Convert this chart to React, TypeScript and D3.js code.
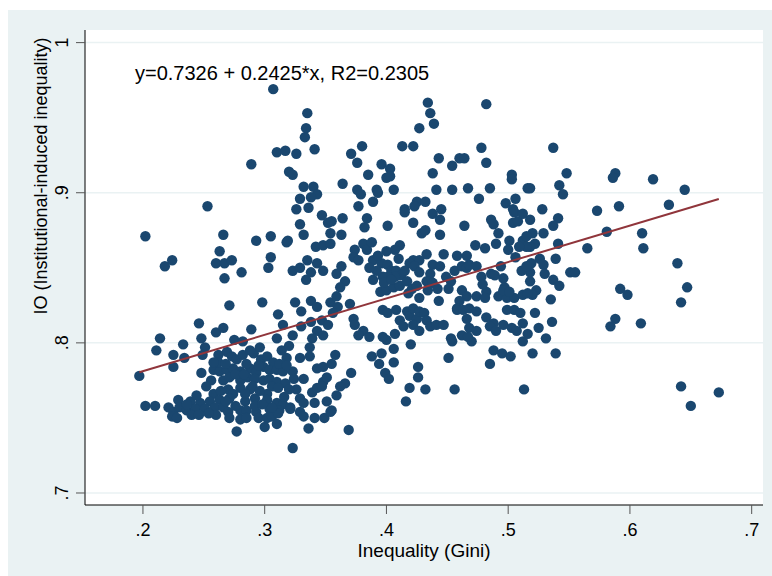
import React from 'react';
import * as d3 from 'd3';

// [gini, io] pairs
const upperPoints: [number, number][] = [
  [.307, .969], [.335, .953], [.334, .943], [.333, .937], [.341, .929], [.310, .927], [.317, .928], [.326, .926],
  [.289, .919], [.320, .914], [.323, .912], [.332, .904], [.340, .904], [.343, .899], [.338, .897], [.329, .896],
  [.326, .889], [.336, .890], [.253, .891],
  [.434, .960], [.482, .959], [.436, .953], [.439, .946], [.427, .943], [.380, .931], [.413, .931], [.422, .931],
  [.371, .926], [.478, .930], [.376, .920], [.443, .923], [.460, .923], [.464, .923], [.482, .920], [.396, .919],
  [.403, .916], [.454, .918], [.385, .912], [.400, .910], [.403, .911], [.438, .913], [.503, .912], [.503, .909],
  [.364, .906], [.376, .902], [.379, .899], [.392, .902], [.393, .900], [.406, .902], [.441, .902], [.454, .902],
  [.467, .903], [.485, .903], [.516, .903], [.377, .891], [.389, .894], [.476, .896], [.498, .893], [.506, .896],
  [.425, .894], [.432, .894], [.423, .891], [.415, .889], [.445, .889], [.504, .889],
  [.537, .930], [.548, .913], [.588, .913], [.586, .910], [.619, .909], [.542, .905], [.545, .899], [.518, .903],
  [.645, .902], [.528, .889], [.591, .891], [.632, .892], [.573, .888],
];

const rightPoints: [number, number][] = [
  [.541, .883], [.518, .882], [.537, .878], [.520, .873], [.529, .873], [.522, .866], [.518, .864], [.581, .874],
  [.610, .873], [.541, .866], [.565, .863], [.611, .863], [.526, .856], [.529, .852], [.530, .846], [.539, .856],
  [.519, .853], [.518, .847], [.551, .847], [.555, .847], [.639, .853], [.537, .842], [.542, .838], [.518, .841],
  [.647, .837], [.592, .836], [.598, .832], [.523, .835], [.520, .832], [.535, .829], [.642, .827], [.522, .820],
  [.588, .816], [.584, .811], [.609, .813], [.536, .814], [.525, .810], [.531, .803], [.520, .793], [.539, .793],
  [.642, .771], [.650, .758], [.673, .767],
];

const lowerMidPoints: [number, number][] = [
  [.358, .792], [.355, .786], [.371, .780], [.366, .773], [.362, .771], [.359, .765], [.355, .755], [.369, .742],
  [.388, .791], [.396, .793], [.394, .786], [.399, .780], [.402, .776], [.406, .796], [.406, .787], [.400, .802],
  [.420, .799], [.426, .784], [.426, .777], [.419, .770], [.432, .769], [.416, .761], [.451, .790], [.454, .801],
  [.456, .769], [.470, .801], [.488, .795], [.495, .793], [.502, .791], [.485, .786], [.513, .769], [.512, .801],
];

const leftMidPoints: [number, number][] = [
  [.202, .871], [.218, .851], [.224, .855], [.266, .872], [.263, .861], [.260, .853], [.267, .853], [.273, .855],
  [.267, .843], [.281, .847], [.293, .868], [.305, .871], [.318, .867], [.319, .868], [.305, .857], [.303, .850],
  [.329, .879], [.347, .885], [.332, .872], [.352, .880], [.342, .864], [.348, .865], [.323, .848], [.329, .850],
  [.335, .855], [.338, .847], [.343, .853], [.348, .848], [.334, .842], [.271, .825], [.298, .827], [.325, .827],
  [.338, .828], [.343, .824], [.311, .819], [.330, .821], [.246, .813], [.260, .807], [.266, .810], [.289, .809],
  [.315, .812], [.214, .803], [.248, .803], [.275, .802], [.323, .805], [.330, .811], [.338, .814], [.347, .815],
  [.343, .808], [.352, .812], [.310, .803], [.339, .803], [.348, .805],
];

const centerPoints: [number, number][] = [
  [.364, .883], [.355, .881], [.384, .883], [.382, .877], [.401, .878], [.415, .887], [.422, .880], [.438, .886],
  [.444, .882], [.429, .873], [.432, .875], [.444, .872], [.464, .878], [.486, .882], [.488, .879], [.492, .873],
  [.504, .880], [.508, .881], [.505, .887], [.512, .886], [.501, .868], [.490, .866], [.512, .868], [.515, .871],
  [.363, .872], [.354, .873], [.354, .866], [.381, .866], [.384, .862], [.388, .867], [.374, .862], [.373, .857],
  [.377, .855], [.411, .865], [.407, .862], [.400, .861], [.433, .859], [.422, .855], [.427, .855], [.447, .859],
  [.458, .858], [.466, .858], [.473, .865], [.481, .863], [.515, .864], [.389, .855], [.396, .853], [.401, .852],
  [.404, .848], [.408, .848], [.412, .845], [.407, .844], [.401, .844], [.397, .844], [.419, .853], [.423, .851],
  [.427, .847], [.436, .846], [.438, .852], [.444, .851], [.456, .848], [.462, .851], [.466, .850], [.468, .852],
  [.474, .851], [.486, .846], [.359, .846], [.363, .851], [.389, .842], [.366, .841], [.362, .837], [.478, .844],
  [.511, .848], [.515, .851], [.496, .843], [.497, .837], [.395, .834], [.400, .835], [.406, .837], [.411, .838],
  [.417, .841], [.421, .836], [.425, .838], [.433, .841], [.438, .840], [.434, .835], [.449, .844], [.453, .841],
  [.451, .836], [.462, .835], [.466, .831], [.460, .828], [.458, .823], [.474, .831], [.482, .834], [.481, .830],
  [.492, .831], [.499, .830], [.505, .830], [.512, .832], [.516, .833], [.496, .835], [.501, .834], [.354, .827],
  [.359, .831], [.360, .824], [.370, .826], [.356, .820], [.373, .816], [.374, .812], [.381, .808], [.386, .804],
  [.377, .805], [.397, .822], [.401, .820], [.408, .822], [.411, .815], [.417, .821], [.419, .818], [.422, .823],
  [.425, .816], [.427, .821], [.431, .820], [.433, .815], [.414, .811], [.422, .812], [.427, .808], [.436, .811],
  [.441, .812], [.407, .806], [.397, .804], [.443, .828], [.447, .812], [.453, .803], [.462, .805], [.467, .804],
  [.458, .822], [.463, .822], [.468, .823], [.474, .821], [.466, .816], [.482, .817], [.488, .813], [.485, .811],
  [.490, .808], [.496, .812], [.503, .810], [.507, .808], [.512, .813], [.516, .806], [.499, .822], [.505, .822],
  [.510, .820], [.468, .810], [.474, .808],
  [.392, .848], [.386, .850], [.398, .840], [.404, .842], [.415, .848], [.393, .858], [.410, .856], [.418, .833],
  [.427, .830], [.442, .836], [.479, .839], [.489, .845], [.494, .851], [.506, .857], [.500, .862], [.509, .864],
];

const lowerLeftPoints: [number, number][] = [
  [.233, .799], [.251, .797], [.282, .801], [.211, .795], [.225, .792], [.234, .790], [.249, .792], [.262, .792],
  [.269, .794], [.273, .791], [.277, .789], [.282, .792], [.291, .793], [.297, .789], [.302, .791], [.307, .787],
  [.225, .784], [.258, .782], [.248, .780], [.263, .781], [.269, .782], [.274, .783], [.280, .781], [.288, .783],
  [.293, .780], [.299, .784], [.304, .782], [.310, .782], [.315, .781], [.323, .781], [.329, .790], [.337, .791],
  [.337, .797], [.343, .783], [.348, .784], [.197, .778], [.256, .775], [.266, .775], [.271, .777], [.280, .775],
  [.286, .777], [.292, .776], [.299, .775], [.304, .776], [.310, .774], [.317, .773], [.332, .776], [.348, .774],
  [.351, .777], [.252, .771], [.258, .766], [.270, .769], [.274, .766], [.280, .770], [.288, .769], [.302, .766],
  [.306, .771], [.311, .770], [.326, .769], [.339, .767], [.343, .770], [.347, .771], [.229, .762], [.239, .761],
  [.247, .760], [.255, .761], [.263, .762], [.271, .763], [.284, .761], [.292, .763], [.302, .762], [.310, .760],
  [.315, .759], [.321, .757], [.329, .763], [.332, .760], [.341, .760], [.351, .761], [.202, .758], [.210, .758],
  [.221, .757], [.225, .754], [.230, .757], [.236, .755], [.243, .756], [.251, .756], [.259, .757], [.266, .757],
  [.270, .754], [.280, .755], [.285, .755], [.293, .754], [.304, .756], [.312, .755], [.321, .756], [.329, .754],
  [.332, .751], [.341, .750], [.349, .750], [.354, .754], [.224, .751], [.228, .750], [.260, .752], [.271, .750],
  [.280, .749], [.285, .750], [.295, .750], [.302, .750], [.306, .751], [.310, .746], [.300, .744], [.311, .753],
  [.277, .741], [.336, .743], [.323, .730],
  [.262, .787], [.268, .786], [.285, .786], [.295, .785], [.312, .786], [.318, .790], [.288, .795], [.296, .797],
  [.276, .779], [.283, .779], [.290, .771], [.296, .768], [.284, .766], [.292, .758], [.298, .759], [.306, .757],
  [.276, .758], [.268, .761], [.316, .764], [.320, .769], [.324, .776], [.318, .785], [.240, .752], [.246, .752],
  [.254, .753], [.236, .759], [.244, .765], [.264, .768], [.258, .787], [.314, .795], [.320, .798],
];

const points = [...upperPoints, ...rightPoints, ...lowerMidPoints, ...leftMidPoints, ...centerPoints, ...lowerLeftPoints];

const xTicks = [.2, .3, .4, .5, .6, .7];
const yTicks = [.7, .8, .9, 1];
const fit = { a: 0.7326, b: 0.2425, r2: 0.2305 };

const fmt = (v: number) => (v === 1 ? '1' : d3.format('.1f')(v).replace(/^0/, ''));

export default function App() {
  const left = 85, right = 763, top = 30, bottom = 505;
  const x = d3.scaleLinear().domain([0.1524, 0.7093]).range([left, right]);
  const y = d3.scaleLinear().domain([0.692, 1.0084]).range([bottom, top]);
  const [gMin, gMax] = d3.extent(points, d => d[0]) as [number, number];
  const fitLine = d3.line<number>().x(g => x(g)).y(g => y(fit.a + fit.b * g))([gMin, gMax]) as string;
  const font = '"Liberation Sans", Arial, sans-serif';

  return (
    <svg width={772} height={576} style={{ position: 'absolute', left: 0, top: 0, fontFamily: font }}>
      <rect x={0} y={0} width={772} height={576} fill="#fff" />
      <rect x={8} y={10} width={764} height={566} fill="#eaf2f3" />
      <rect x={left} y={top} width={right - left} height={bottom - top} fill="#fff" />
      {yTicks.map(t => (
        <line key={'g' + t} x1={left} x2={right} y1={y(t)} y2={y(t)} stroke="#eaf2f3" strokeWidth={1.5} />
      ))}
      {points.map((p, i) => (
        <circle key={i} cx={x(p[0])} cy={y(p[1])} r={5.2} fill="#1a476f" />
      ))}
      <path d={fitLine} fill="none" stroke="#90353b" strokeWidth={2} />
      <line x1={left} x2={left} y1={top} y2={bottom} stroke="#000" strokeWidth={1} />
      <line x1={left} x2={right} y1={bottom} y2={bottom} stroke="#000" strokeWidth={1} />
      {yTicks.map(t => (
        <g key={'y' + t}>
          <line x1={left - 9} x2={left} y1={y(t)} y2={y(t)} stroke="#555" strokeWidth={1} />
          <text transform={`translate(68,${y(t)}) rotate(-90)`} textAnchor="middle" fontSize={18} fill="#000">{fmt(t)}</text>
        </g>
      ))}
      {xTicks.map(t => (
        <g key={'x' + t}>
          <line x1={x(t)} x2={x(t)} y1={bottom} y2={bottom + 9} stroke="#555" strokeWidth={1} />
          <text x={x(t)} y={536} textAnchor="middle" fontSize={18} fill="#000">{fmt(t)}</text>
        </g>
      ))}
      <text x={(left + right) / 2} y={557} textAnchor="middle" fontSize={19} fill="#000">Inequality (Gini)</text>
      <text transform={`translate(47,176) rotate(-90)`} textAnchor="middle" fontSize={18} fill="#000">
        IO (Institutional-induced inequality)
      </text>
      <text x={135} y={80} fontSize={20} fill="#000">
        {`y=${fit.a} + ${fit.b}*x, R2=${fit.r2}`}
      </text>
    </svg>
  );
}
